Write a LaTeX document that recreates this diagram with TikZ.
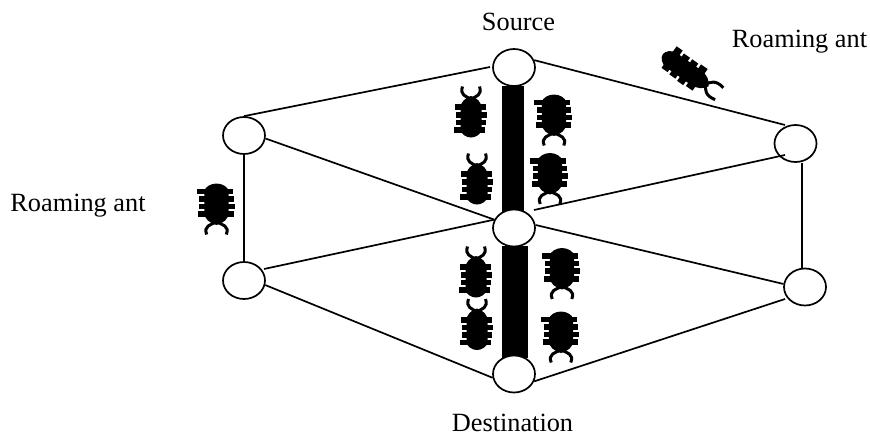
\documentclass[tikz,border=0pt]{standalone}
\usepackage{fontspec}
\setmainfont{Liberation Serif}
\usetikzlibrary{shapes.geometric}
\tikzset{
  junction/.style={draw,line width=1.7pt,ellipse,minimum width=42pt,minimum height=37pt,inner sep=0pt,fill=white},
  link/.style={line width=1.7pt},
  trail/.style={fill=black,draw=none,inner sep=0pt},
  caption/.style={font=\fontsize{26.3}{30}\selectfont,inner sep=0pt,anchor=base},
  pics/bug/.style={code={
    % legs, body and feelers, drawn head upward around the origin
    \fill (-16,-8) rectangle (15,-2);
    \fill (-15,0) rectangle (16,5.5);
    \fill (-15,7.5) rectangle (15,13);
    \fill (-17,15) rectangle (14,20.5);
    \fill (0,-16) .. controls (-6,-14) and (-10.5,-10) .. (-10.5,-4) -- (-10.5,18)
      .. controls (-10,22) and (-5,25.5) .. (0,25.5)
      .. controls (5,25.5) and (10,22) .. (10.5,18) -- (10.5,-4)
      .. controls (10.5,-10) and (6,-14) .. (0,-16) -- cycle;
    \draw[line width=3pt] (-8.5,-25.5) .. controls (-11.5,-17) and (-5,-15.5) .. (0,-13)
      .. controls (5,-15.5) and (11.5,-17) .. (8.5,-25.5);
  }},
}
\begin{document}
\begin{tikzpicture}[x=1pt,y=-1pt]
\useasboundingbox (0,0) rectangle (870,434);
% thick trails along the central column
\node[trail,minimum width=22pt,minimum height=126pt] (trailA) at (513,148.5) {};
\node[trail,minimum width=26pt,minimum height=112pt] (trailB) at (515,302) {};
% junctions
\node[junction] (src) at (514,67.5) {};
\node[junction] (mid) at (514,228) {};
\node[junction] (dst) at (514,374) {};
\node[junction] (lt) at (244,135.5) {};
\node[junction] (lb) at (244,280.5) {};
\node[junction] (rt) at (795.5,143.5) {};
\node[junction] (rb) at (805,287) {};
% link ends that stop short of, or run into, a junction outline
\coordinate (srcGap) at (490,67);
\coordinate (midGapR) at (534,210);
\coordinate (rtTop) at (785,125);
\coordinate (rtIn) at (785,155);
\coordinate (rbGap) at (785,299);
\coordinate (lbGap) at (264,269);
% links
\draw[link] (srcGap) -- (lt.90);
\draw[link] (src.20) -- (rtTop);
\draw[link] (lt.south) -- (lb.north);
\draw[link] (rt.south -| 802,0) -- (rb.north -| 802,0);
\draw[link] (lt.-8) -- (mid.157);
\draw[link] (lbGap) -- (mid.157);
\draw[link] (rtIn) -- (midGapR);
\draw[link] (rb.172) -- (mid.8);
\draw[link] (lb.-12) -- (dst.190);
\draw[link] (rbGap) -- (dst.-20);
% ants
\pic at (471,112) {bug};
\pic at (477,179) {bug};
\pic at (476,272) {bug};
\pic at (477,324.5) {bug};
\pic[yscale=-1,xscale=1.15] at (554,120) {bug};
\pic[yscale=-1,xscale=1.15] at (550,178.5) {bug};
\pic[yscale=-1,xscale=1.15] at (562,273.5) {bug};
\pic[yscale=-1,xscale=1.15] at (561,337) {bug};
\pic[yscale=-1,xscale=1.15] at (216.5,209) {bug};
\pic[rotate=-125,xscale=.85,yscale=1.35] at (691,74) {bug};
% captions
\node[caption] (cs) at (518.5,30) {Source};
\node[caption] (cd) at (512.5,431.5) {Destination};
\node[caption] (cr) at (799.5,47) {Roaming ant};
\node[caption] (cl) at (78,211) {Roaming ant};
\end{tikzpicture}
\end{document}
